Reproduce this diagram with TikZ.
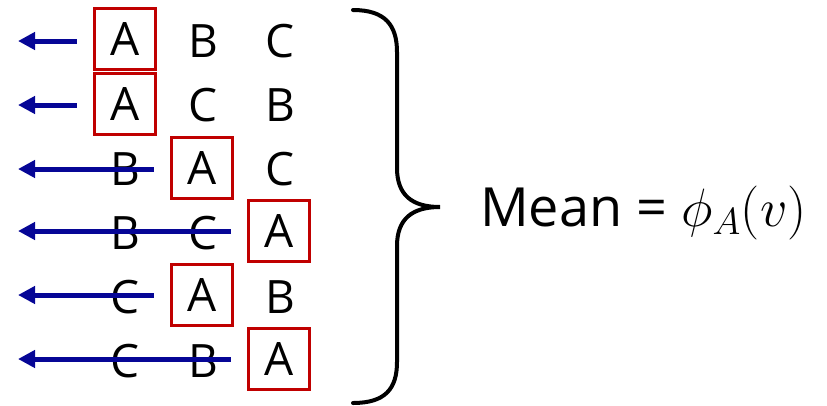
\documentclass[tikz,border=0pt]{standalone}
\usepackage{fix-cm}
\usepackage{fontspec}
\setmainfont{Open Sans}
\usetikzlibrary{arrows.meta}
\definecolor{boxred}{RGB}{192,0,0}
\definecolor{arrblue}{RGB}{6,6,150}
\begin{document}
\begin{tikzpicture}[x=1pt,y=-1pt,
  letter/.style={inner sep=0pt,font=\fontsize{46}{46}\selectfont},
  redbox/.style={letter,draw=boxred,line width=3.5pt,minimum width=61pt,minimum height=61pt},
  backarrow/.style={draw=arrblue,line width=5pt,-{Triangle[length=17pt,width=17pt]}},
  bracestyle/.style={line width=4pt,line cap=round}]
\useasboundingbox (0,0) rectangle (827,405);
% row 1
\node[redbox] (a1) at (125,39) {A};
\node[letter] (b1) at (203,41) {B};
\node[letter] (c1) at (280,41) {C};
% row 2
\node[redbox] (a2) at (125,104) {A};
\node[letter] (c2) at (203,105) {C};
\node[letter] (b2) at (280,105) {B};
% row 3
\node[letter] (b3) at (125,169) {B};
\node[redbox] (a3) at (202,168) {A};
\node[letter] (c3) at (280,169) {C};
% row 4
\node[letter] (b4) at (125,233) {B};
\node[letter] (c4) at (203,233) {C};
\node[redbox] (a4) at (279,231) {A};
% row 5
\node[letter] (c5) at (125,297) {C};
\node[redbox] (a5) at (202,295) {A};
\node[letter] (b5) at (280,297) {B};
% row 6
\node[letter] (c6) at (125,361) {C};
\node[letter] (b6) at (203,361) {B};
\node[redbox] (a6) at (279,359) {A};
% arrows
\foreach \r/\y in {1/41,2/105,3/169,4/231,5/295,6/359}{
  \coordinate (s\r) at ([xshift=-16pt]a\r.west |- 0,\y);
  \coordinate (e\r) at (18,\y);
  \draw[backarrow] (s\r) -- (e\r);
}
% brace
\draw[bracestyle] (353,10) .. controls (385,10) and (397,25) .. (397,52) -- (397,168)
  .. controls (397,195) and (412,207) .. (440,207)
  .. controls (412,207) and (397,219) .. (397,246) -- (397,362)
  .. controls (397,389) and (385,403) .. (353,403);
\node[anchor=base west,inner sep=0pt,font=\fontsize{54}{60}\selectfont] (mean) at (480,226) {Mean = $\phi_A(v)$};
\end{tikzpicture}
\end{document}
